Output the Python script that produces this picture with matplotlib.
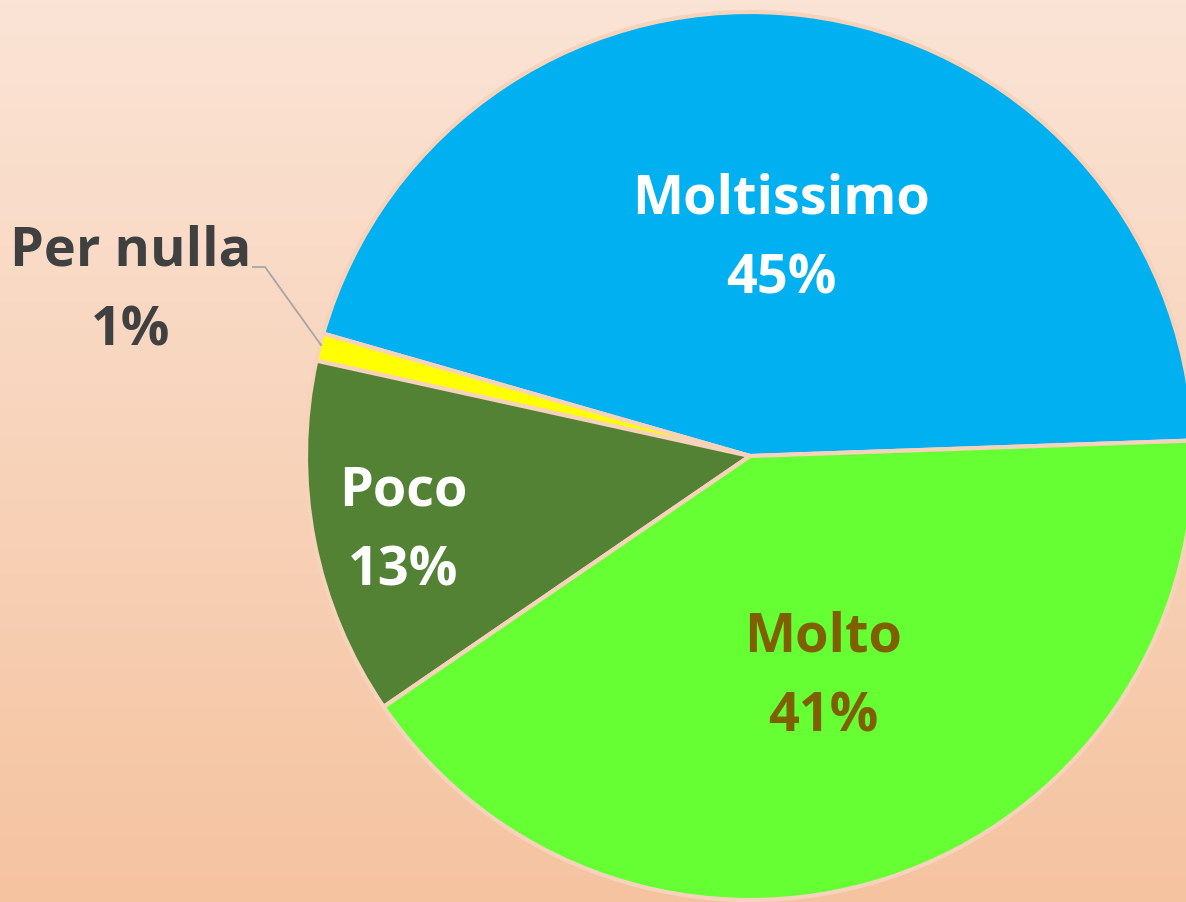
import numpy as np
import matplotlib
matplotlib.use("Agg")
import matplotlib.pyplot as plt
from matplotlib.colors import LinearSegmentedColormap

categories = ["Moltissimo", "Per nulla", "Poco", "Molto"]
values = [45, 1, 13, 41]
colors = ["#00B0F0", "#FFFF00", "#548235", "#66FF33"]
label_colors = ["#FFFFFF", "#404040", "#FFFFFF", "#7F6000"]
explode = [0, 0, 0, 0.011]

W, H = 1186, 903
fig = plt.figure(figsize=(W / 100, H / 100), dpi=100)
ax = fig.add_axes([0, 0, 1, 1])
ax.set_xlim(0, W)
ax.set_ylim(0, H)
ax.axis("off")

# background gradient
cmap = LinearSegmentedColormap.from_list("bg", ["#F5C3A0", "#FBE4D6"])
grad = np.linspace(0, 1, 256).reshape(-1, 1)
ax.imshow(grad, cmap=cmap, extent=[0, W, 0, H], origin="lower", aspect="auto", zorder=0)

cx, cy, r = 750, H - 457, 444
wedges, _ = ax.pie(values, colors=colors, startangle=2, counterclock=True,
                   explode=explode, center=(cx, cy), radius=r, frame=True,
                   wedgeprops=dict(edgecolor="#F8D3BC", linewidth=3))
for w in wedges:
    w.set_zorder(2)
ax.set_xlim(0, W)
ax.set_ylim(0, H)
ax.set_aspect("equal")
ax.axis("off")

font = dict(family=["Open Sans", "DejaVu Sans"], fontweight="bold", fontsize=39,
            ha="center", va="center", zorder=5)
label_pos = {"Moltissimo": (781, 199), "Per nulla": (131, 251),
             "Poco": (403, 491), "Molto": (823, 638)}
for cat, val, col in zip(categories, values, label_colors):
    x, y = label_pos[cat]
    ax.text(x, H - y, cat, color=col, **font)
    ax.text(x, H - y - 80, f"{val}%", color=col, **font)

# leader line for Per nulla
ax.plot([253, 265, 321], [H - 268, H - 268, H - 346], color="#A6A6A6", lw=1.3, zorder=4)

fig.savefig("out.png", dpi=100)
